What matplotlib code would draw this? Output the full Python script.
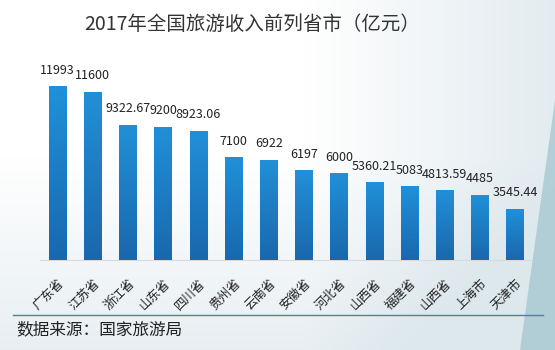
import numpy as np
import matplotlib.pyplot as plt
from matplotlib.colors import LinearSegmentedColormap
from matplotlib.lines import Line2D
from matplotlib.patches import Polygon

plt.rcParams['font.family'] = ['Noto Sans CJK SC', 'DejaVu Sans']

# 2017 tourism income by province / city (100 million yuan)
provinces = ['广东省', '江苏省', '浙江省', '山东省', '四川省', '贵州省', '云南省',
             '安徽省', '河北省', '山西省', '福建省', '山西省', '上海市', '天津市']
income = [11993, 11600, 9322.67, 9200, 8923.06, 7100, 6922,
          6197, 6000, 5360.21, 5083, 4813.59, 4485, 3545.44]
income_labels = ['11993', '11600', '9322.67', '9200', '8923.06', '7100', '6922',
                 '6197', '6000', '5360.21', '5083', '4813.59', '4485', '3545.44']

W, H = 555, 350
fig = plt.figure(figsize=(W / 100, H / 100), dpi=100)

# soft background: white fading to pale blue-grey at the bottom and right
bg = fig.add_axes([0, 0, 1, 1], zorder=-2)
gx, gy = np.meshgrid(np.linspace(0, 1, 300), np.linspace(1, 0, 200))
t = np.clip(0.85 * np.clip(gx - 0.55, 0, None) / 0.45 + 0.7 * np.clip(0.55 - gy, 0, None) / 0.55, 0, 1)
white = np.array([1.0, 1.0, 1.0])
tint = np.array([0.87, 0.91, 0.93])
img = white[None, None, :] * (1 - t[..., None]) + tint[None, None, :] * t[..., None]
bg.imshow(img, extent=[0, 1, 0, 1], aspect='auto', interpolation='bilinear')
bg.add_patch(Polygon([(1.0, 250 / H), (1.0, 0.0), (520 / W, 0.0)], closed=True,
                     facecolor='#a3c5cf', edgecolor='none', alpha=0.75))
bg.set_xlim(0, 1)
bg.set_ylim(0, 1)
bg.axis('off')

ax = fig.add_axes([40 / W, 90 / H, 490 / W, 203 / H])
ax.patch.set_alpha(0)

x = np.arange(len(provinces))
bars = ax.bar(x, income, width=0.5, color='#1f7fc6', zorder=2)

# vertical gradient on each bar
bar_cmap = LinearSegmentedColormap.from_list('barblue', ['#1a68ad', '#2190d8'])
grad = np.linspace(0, 1, 100).reshape(-1, 1)
for b in bars:
    bx, by = b.get_x(), b.get_y()
    im = ax.imshow(grad, extent=[bx, bx + b.get_width(), by, by + b.get_height()],
                   origin='lower', cmap=bar_cmap, aspect='auto', zorder=3)
    im.set_clip_path(b)

for xi, v, lab in zip(x, income, income_labels):
    ax.annotate(lab, (xi, v), xytext=(0, 11.5), textcoords='offset points',
                ha='center', va='center', fontsize=9, color='#222222')

ax.set_xlim(-0.5, 13.42)
ax.set_ylim(0, 14000)
ax.set_yticks([])
ax.set_xticks(x)
ax.set_xticklabels(provinces, rotation=45, ha='right', va='top',
                   rotation_mode='anchor', fontsize=9, color='#222222')
ax.tick_params(axis='x', length=0, pad=12)
for s in ['top', 'right', 'left']:
    ax.spines[s].set_visible(False)
ax.spines['bottom'].set_color('#d9d9d9')

fig.text(252.5 / W, (H - 25) / H, '2017年全国旅游收入前列省市（亿元）',
         ha='center', va='center', fontsize=14, color='#333333')

# source line at the bottom
fig.add_artist(Line2D([13 / W, 543 / W], [35 / H, 35 / H], color='#3a88aa', lw=1))
fig.text(16 / W, 20 / H, '数据来源：国家旅游局', ha='left', va='center',
         fontsize=12, color='#222222')

fig.savefig('out.png', dpi=100)
